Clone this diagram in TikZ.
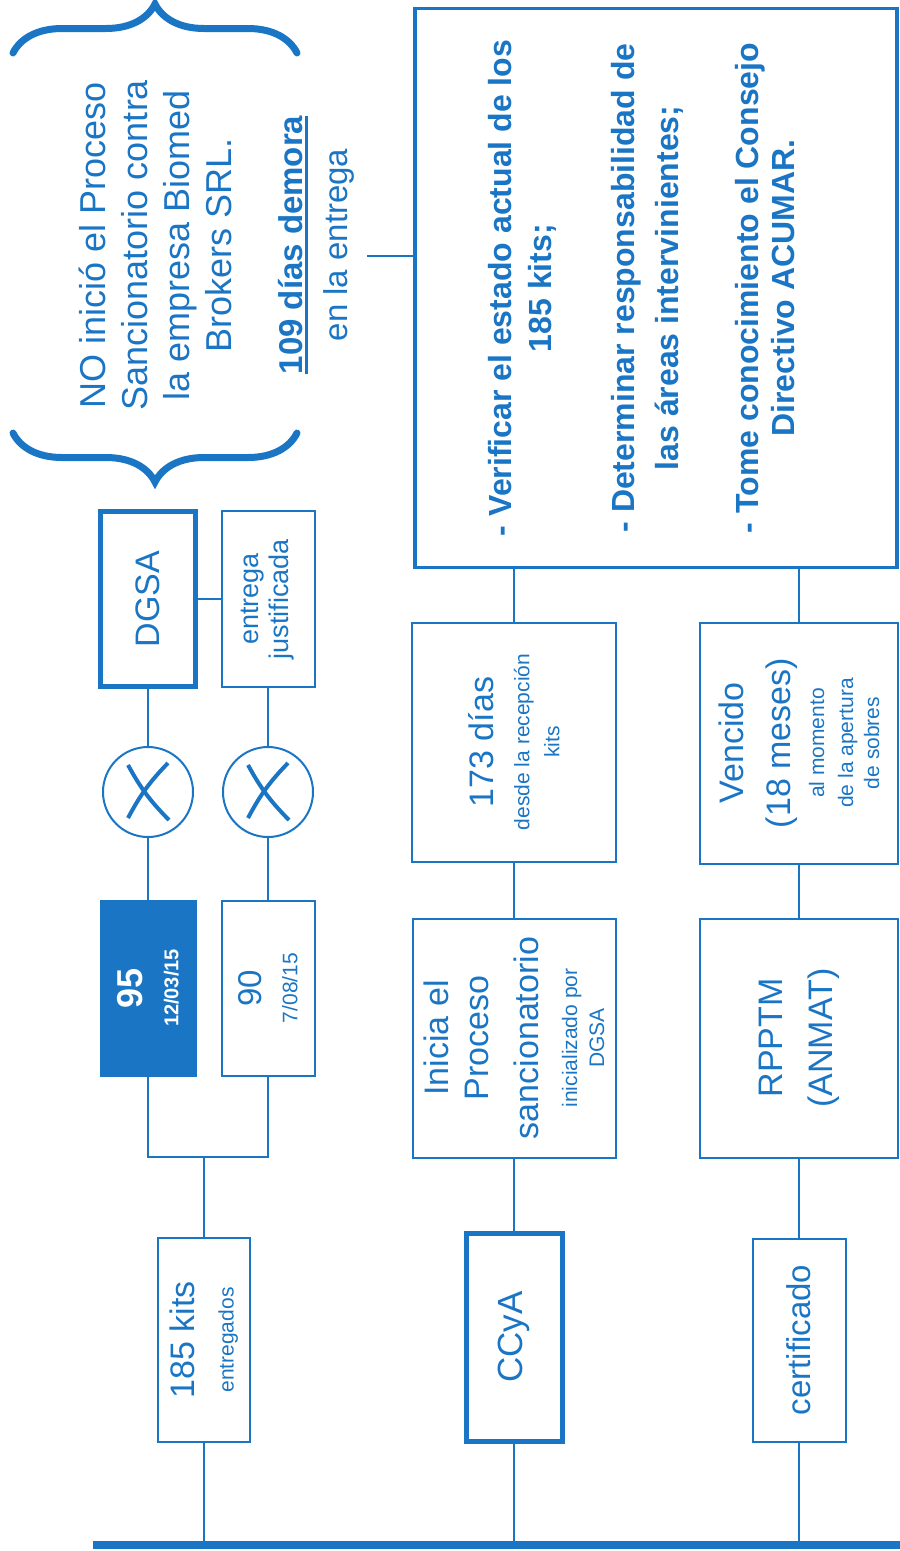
\documentclass[tikz,border=0pt]{standalone}
\usepackage{fontspec}
\setmainfont{Liberation Sans}
\usetikzlibrary{decorations.pathreplacing}
\definecolor{azul}{RGB}{26,117,196}
\newcommand{\grande}{\fontsize{34}{45}\selectfont}
\newcommand{\chico}{\fontsize{21}{27}\selectfont}
\newcommand{\subrayado}[1]{\setbox0\hbox{#1}\rlap{\rule[-5pt]{\wd0}{3pt}}\box0}

\begin{document}
\begin{tikzpicture}[x=1pt,y=-1pt,
  caja/.style={draw=azul, line width=2pt, rotate=90, align=center, text=azul, inner sep=0pt, font=\grande},
  gruesa/.style={caja, line width=5pt},
  dims/.style 2 args={minimum height=#1, minimum width=#2},
  linea/.style={draw=azul, line width=2pt},
  llave/.style={draw=azul, line width=7pt, line cap=round, decorate},
  cruz/.style={draw=azul, line width=2pt, circle, minimum size=90, inner sep=0pt,
    path picture={
      \draw[azul, line width=4pt] ([shift={(-20,-27)}]path picture bounding box.center) to[bend right=8] ([shift={(21,28)}]path picture bounding box.center);
      \draw[azul, line width=4pt] ([shift={(20,-29)}]path picture bounding box.center) to[bend right=8] ([shift={(-20,26)}]path picture bounding box.center);
    }},
]
\useasboundingbox (0,0) rectangle (900,1551);

% nota con llaves
\draw[llave, decoration={brace, amplitude=49}] (13,53) -- (297,53);
\draw[llave, decoration={brace, amplitude=49}] (297,433) -- (13,433);
\node[text=azul, align=center, rotate=90, inner sep=0pt, font=\fontsize{36}{42}\selectfont] (nota) at (217,245)
  {NO inició el Proceso\\Sancionatorio contra\\la empresa Biomed\\Brokers SRL.\\[29pt]{\fontsize{33}{40}\selectfont\bfseries\subrayado{109 días demora}}\\[3pt]{\fontsize{33}{40}\selectfont en la entrega}};
\coordinate (notal) at (367,256);

% columna izquierda
\node[gruesa, dims={95}{175}] (dgsa) at (148,599) {DGSA};
\node[caja, dims={93}{176}, font=\fontsize{27}{30}\selectfont] (just) at (268,599) {entrega\\justificada};
\node[cruz] (c1) at (148,792) {};
\node[cruz] (c2) at (268,792) {};
\node[caja, fill=azul, text=white, dims={95}{175}] (b95) at (148,988) {{\fontsize{36}{40}\selectfont\bfseries 95}\\[-9pt]{\fontsize{20}{24}\selectfont\bfseries 12/03/15}};
\node[caja, dims={93}{175}] (b90) at (268,988) {{\fontsize{33}{40}\selectfont 90}\\[-9pt]{\fontsize{21}{24}\selectfont 7/08/15}};
\node[caja, dims={92}{204}] (kits) at (204,1340) {185 kits\\[-6pt]{\chico entregados}};
\coordinate (fork) at (204,1157);

% columna central
\node[caja, line width=3.5pt, dims={482}{559}, font=\fontsize{32}{40}\selectfont\bfseries] (acc) at (656,288)
  {- Verificar el estado actual de los\\185 kits;\\[43pt]- Determinar responsabilidad de\\[4pt]las áreas intervinientes;\\[40pt]- Tome conocimiento el Consejo\\[-4pt]Directivo ACUMAR.\\[-10pt]\mbox{}};
\node[caja, dims={204}{239}] (dias) at (514,742) {173 días\\[-9pt]{\chico desde la recepción}\\[-15pt]{\chico kits}};
\node[caja, dims={203}{239}] (inicia) at (514,1038) {Inicia el\\[-5pt]Proceso\\[5pt]sancionatorio\\[-6pt]{\chico inicializado por}\\[-18pt]{\chico DGSA}};
\node[gruesa, dims={96}{208}] (ccya) at (514,1337) {\fontsize{35}{45}\selectfont CCyA};

% columna derecha
\node[caja, dims={198}{241}] (venc) at (799,743) {Vencido\\[2pt](18 meses)\\[-11pt]{\chico al momento}\\[-16pt]{\chico de la apertura}\\[-19pt]{\chico de sobres}};
\node[caja, dims={198}{239}] (rpptm) at (799,1038) {RPPTM\\[5pt](ANMAT)};
\node[caja, dims={93}{203}, font=\fontsize{33}{40}\selectfont] (cert) at (799,1340) {certificado};

% barra inferior
\coordinate (barL) at (93,1545);
\coordinate (barR) at (900,1545);
\path[draw=azul, line width=8pt] (barL) -- (barR);

\path[linea] (dgsa) -- (just);
\path[linea] (dgsa) -- (c1);
\path[linea] (c1) -- (b95);
\path[linea] (just) -- (c2);
\path[linea] (c2) -- (b90);
\path[linea] (b95) |- (fork) -| (b90);
\path[linea] (fork) -- (kits);
\path[linea] (kits) -- (kits |- barL);
\path[linea] (notal) -- (notal -| acc.north);
\path[linea] (dias.east) -- (dias.east |- acc.west);
\path[linea] (venc.east) -- (venc.east |- acc.west);
\path[linea] (dias) -- (inicia);
\path[linea] (inicia) -- (ccya);
\path[linea] (ccya) -- (ccya |- barL);
\path[linea] (venc) -- (rpptm);
\path[linea] (rpptm) -- (cert);
\path[linea] (cert) -- (cert |- barL);
\end{tikzpicture}
\end{document}
